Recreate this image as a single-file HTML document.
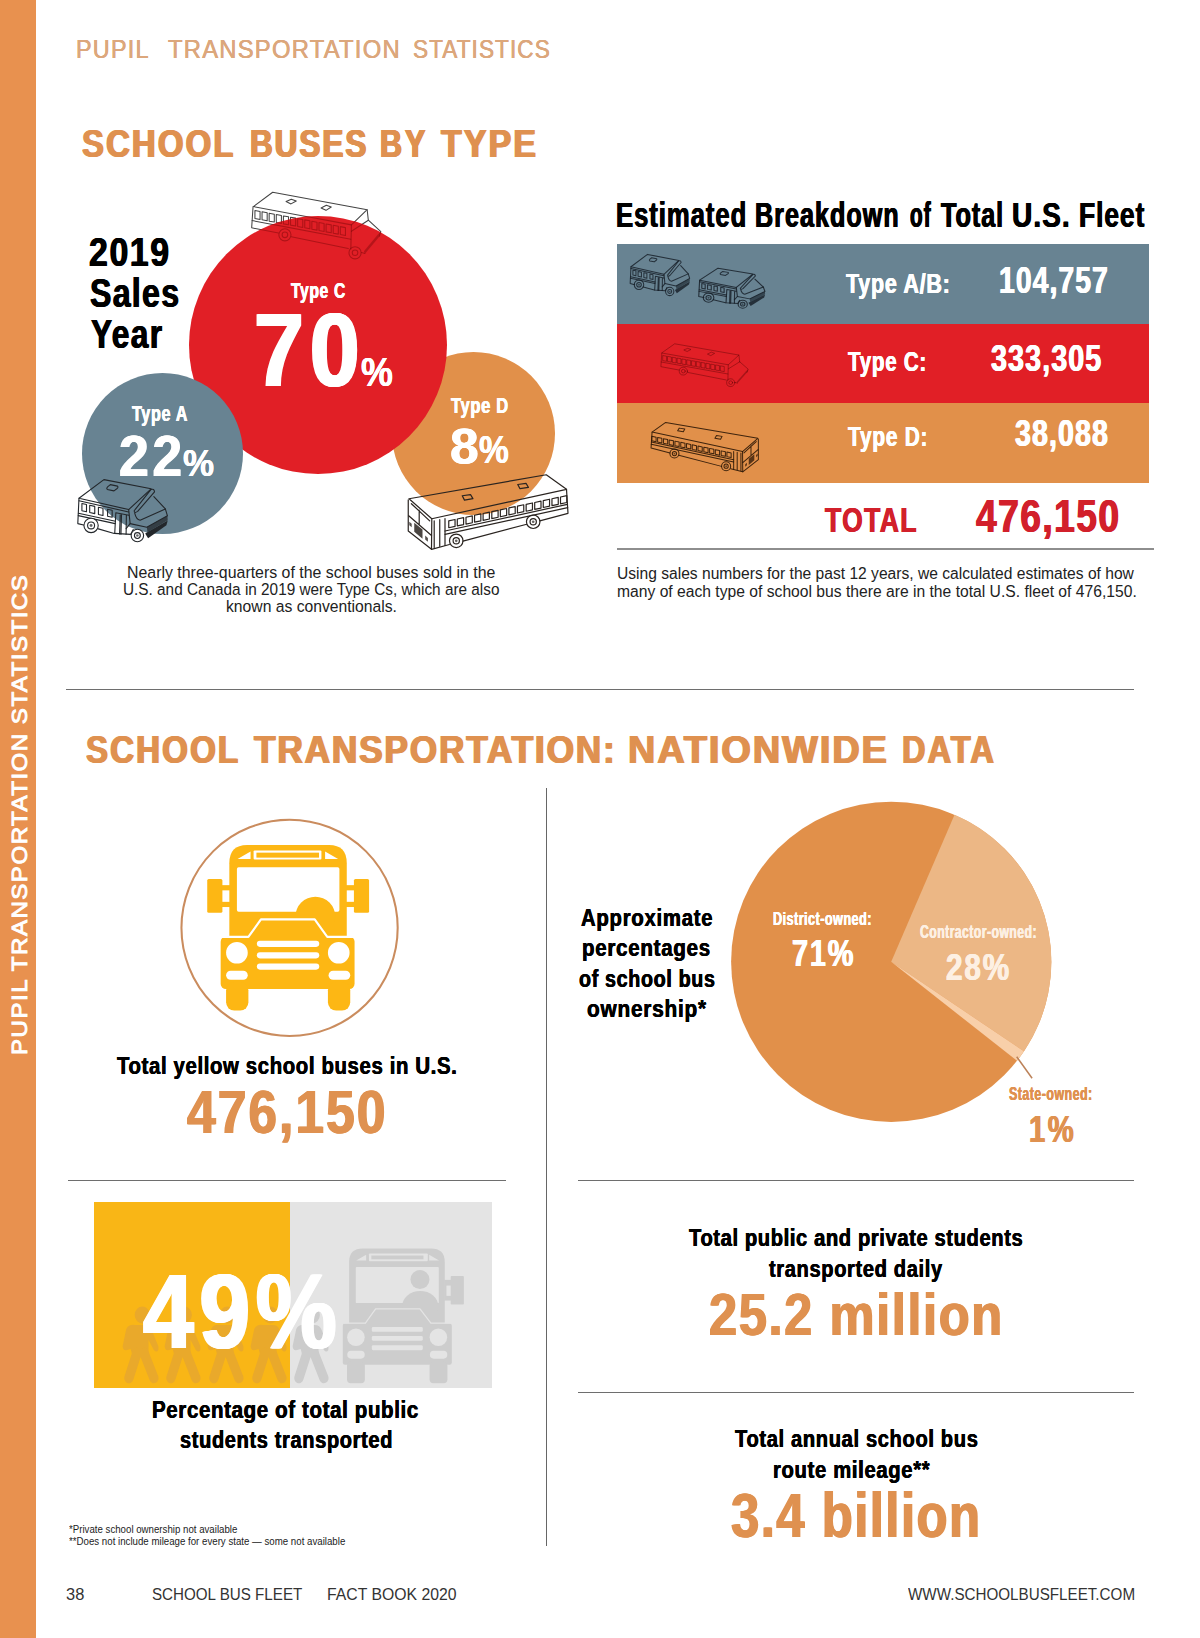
<!DOCTYPE html>
<html>
<head>
<meta charset="utf-8">
<title>Pupil Transportation Statistics</title>
<style>
html,body{margin:0;padding:0;background:#fff;}
body{width:1200px;height:1638px;position:relative;overflow:hidden;font-family:"Liberation Sans",sans-serif;}
.t{position:absolute;white-space:nowrap;line-height:1;transform-origin:0 0;font-family:"Liberation Sans",sans-serif;}
.abs{position:absolute;}
.circ{position:absolute;border-radius:50%;}
.ln{position:absolute;background:#6e6e6e;}
svg{position:absolute;overflow:visible;}
.art{fill:none;stroke:currentColor;stroke-linejoin:round;stroke-linecap:round;}
</style>
</head>
<body>
<!-- shared symbols -->
<svg width="0" height="0" style="left:0;top:0">
<defs>
<!-- Type A small bus : canvas 1200x873 -->
<symbol id="busA" viewBox="0 0 1200 873" preserveAspectRatio="none">
 <g class="art" stroke-width="var(--sw,11)">
  <path d="M370,105 L885,205 L640,432 L98,308 Z"/>
  <path d="M98,336 L640,458"/>
  <path d="M98,308 L85,585 L160,603"/>
  <path d="M300,640 L482,692 L662,702 L690,650"/>
  <path d="M92,472 L496,560 M90,498 L493,585"/>
  <path d="M130,365 L180,376 L180,456 L130,445 Z M215,385 L270,397 L270,476 L215,464 Z M310,406 L360,417 L360,496 L310,485 Z M410,428 L460,439 L460,516 L410,505 Z"/>
  <path d="M500,466 L488,692 M548,478 L541,698 M562,481 L556,700 M615,492 L612,700 M500,466 L642,494"/>
  <path d="M640,432 L656,585 L612,640"/>
  <path d="M700,445 L882,214 Q918,198 922,238 L738,452 Q700,478 700,445 Z"/>
  <path d="M915,290 L1040,425 L1063,500 L838,625 L656,585"/>
  <path d="M706,470 Q722,540 765,548 L1040,425"/>
  <path d="M440,160 L518,176 Q530,188 514,202 L480,228 L406,212 Q394,200 410,184 Z"/>
 </g>
 <path d="M838,625 L1063,500 L1066,548 L846,678 Z" fill="currentColor" opacity=".75"/>
 <path d="M820,692 L1066,552 L1052,602 L852,746 Z" fill="currentColor"/>
 <g class="art" stroke-width="var(--sw,11)">
  <circle cx="230" cy="605" r="78" fill="var(--wheel,none)"/><circle cx="230" cy="605" r="38"/>
  <circle cx="735" cy="715" r="68" fill="var(--wheel,none)"/><circle cx="735" cy="715" r="32"/>
 </g>
 <circle cx="230" cy="605" r="16" fill="currentColor" opacity=".7"/><circle cx="735" cy="715" r="14" fill="currentColor" opacity=".7"/>
</symbol>

<!-- Type D bus : canvas 1200x633 -->
<symbol id="busD" viewBox="0 0 1200 633" preserveAspectRatio="none">
 <g class="art" stroke-width="var(--sw,9)">
  <path d="M60,225 L975,65 L1110,162 L212,358 Z"/>
  <path d="M55,232 L55,440 L210,562 L212,358"/>
  <path d="M210,562 L330,530 M420,507 L845,395 M932,372 L1120,322 L1110,162"/>
  <path d="M76,258 L198,372 M58,338 L210,470 M128,300 L128,400"/>
  <path d="M228,372 L228,550 M265,364 L265,542 M300,357 L300,536"/>
  <path d="M300,440 L1116,262 M300,462 L1118,284"/>
  <path d="M415,205 L470,197 L486,224 L430,234 Z M785,130 L840,122 L856,149 L800,158 Z"/>
  <path d="M325,372 l42,-9 l0,46 l-42,9 Z M382,360 l42,-9 l0,46 l-42,9 Z M440,348 l42,-9 l0,46 l-42,9 Z M497,335 l42,-9 l0,46 l-42,9 Z M554,323 l42,-9 l0,46 l-42,9 Z M612,311 l42,-9 l0,46 l-42,9 Z M669,299 l42,-9 l0,46 l-42,9 Z M726,286 l42,-9 l0,46 l-42,9 Z M783,274 l42,-9 l0,46 l-42,9 Z M841,262 l42,-9 l0,46 l-42,9 Z M898,250 l42,-9 l0,46 l-42,9 Z M955,237 l42,-9 l0,46 l-42,9 Z M1013,225 l42,-9 l0,46 l-42,9 Z M1070,213 l42,-9 l0,46 l-42,9 Z"/>
 </g>
 <path d="M95,385 L150,430 L150,492 L95,445 Z" fill="currentColor" opacity=".85"/>
 <path d="M62,378 L78,392 L78,415 L62,401 Z M168,470 L186,486 L186,512 L168,496 Z" fill="currentColor" opacity=".8"/>
 <g class="art" stroke-width="var(--sw,9)">
  <circle cx="375" cy="505" r="45" fill="var(--wheel,none)"/><circle cx="375" cy="505" r="21"/>
  <circle cx="888" cy="378" r="45" fill="var(--wheel,none)"/><circle cx="888" cy="378" r="21"/>
 </g>
 <circle cx="375" cy="505" r="9" fill="currentColor" opacity=".7"/><circle cx="888" cy="378" r="9" fill="currentColor" opacity=".7"/>
</symbol>

<!-- Type C bus : canvas 1200x686 (hood overflows to ~1215) -->
<symbol id="busC" viewBox="0 0 1200 686" overflow="visible" preserveAspectRatio="none">
 <g class="art" stroke-width="var(--sw,9)">
  <path d="M280,105 L1090,255 L955,385 L115,228 Z"/>
  <path d="M112,228 L100,410 L330,455 M440,487 L928,588"/>
  <path d="M1090,255 L1100,345 M955,385 L950,592"/>
  <path d="M104,348 L950,508"/>
  <path d="M395,185 L440,165 L482,180 L437,205 Z M695,240 L740,216 L782,232 L737,260 Z"/>
  <path d="M1100,345 L1207,443 L1195,482 M955,440 L1100,345 M1042,622 L1071,630"/>
  <path d="M128,262 l44,8 l0,68 l-44,-8 Z M189,273 l44,8 l0,68 l-44,-8 Z M250,285 l44,8 l0,68 l-44,-8 Z M311,296 l44,8 l0,68 l-44,-8 Z M372,308 l44,8 l0,68 l-44,-8 Z M433,319 l44,8 l0,68 l-44,-8 Z M494,331 l44,8 l0,68 l-44,-8 Z M555,342 l44,8 l0,68 l-44,-8 Z M616,354 l44,8 l0,68 l-44,-8 Z M677,365 l44,8 l0,68 l-44,-8 Z M738,377 l44,8 l0,68 l-44,-8 Z M799,388 l44,8 l0,68 l-44,-8 Z M860,400 l44,8 l0,68 l-44,-8 Z"/>
 </g>
 <path d="M1207,443 L1195,484 L1071,632 L1062,612 L1180,470 Z" fill="currentColor" opacity=".85"/>
 <g class="art" stroke-width="var(--sw,9)">
  <circle cx="385" cy="470" r="52"/><circle cx="385" cy="470" r="24"/>
  <circle cx="986" cy="624" r="52"/><circle cx="986" cy="624" r="24"/>
 </g>
</symbol>

<!-- walking kid : 46x80 -->
<symbol id="kid" viewBox="0 0 46 80" preserveAspectRatio="none">
 <circle cx="25" cy="11" r="8.5"/>
 <path d="M17,21 Q10,20 7,25 L3,42 Q3,47 8,46 L12,45 L14,52 L32,52 L32,36 L38,46 Q41,49 43,46 Q44,43 42,40 L35,25 Q33,21 28,21 Z"/>
 <path d="M19,49 L10,74 M27,49 L38,74" stroke="currentColor" stroke-width="10.5" stroke-linecap="round" fill="none"/>
</symbol>

</defs>
</svg>

<!-- sidebar -->
<div class="abs" style="left:0;top:0;width:36px;height:1638px;background:#E8914F;"></div>
<div class="t" style="left:8.53px;top:1054.88px;font-size:21.94px;color:#fff;-webkit-text-stroke:0.9px #fff;letter-spacing:1.32px;transform:rotate(-90deg) scaleX(1.1);">PUPIL TRANSPORTATION STATISTICS</div>

<!-- ===== circles section ===== -->
<div class="circ" style="left:392.3px;top:352.3px;width:163.2px;height:163.2px;background:#E1904A;"></div>
<svg style="left:240px;top:180px;color:#444;--sw:9;" width="140" height="80"><use href="#busC"/></svg>
<div class="circ" style="left:189.1px;top:216.3px;width:258.2px;height:258.2px;background:#E11F26;overflow:hidden;">
  <svg style="left:50.9px;top:-36.3px;color:rgba(100,0,0,.4);--sw:9.5;" width="140" height="80"><use href="#busC"/></svg>
</div>
<div class="circ" style="left:81.5px;top:372.9px;width:161px;height:161px;background:#688392;"></div>
<svg style="left:70px;top:470px;color:#23272b;--wheel:#fff;--sw:12;" width="110" height="80"><use href="#busA"/></svg>
<svg style="left:400px;top:465px;color:#2a2420;--sw:8;" width="180" height="95"><use href="#busD"/></svg>


<!-- ===== table ===== -->
<div class="abs" style="left:617px;top:244px;width:531.5px;height:80px;background:#688392;"></div>
<div class="abs" style="left:617px;top:323.5px;width:531.5px;height:80px;background:#E11F26;"></div>
<div class="abs" style="left:617px;top:403px;width:531.5px;height:80.2px;background:#E1904A;"></div>
<svg style="left:625.1px;top:248.2px;color:rgba(20,28,36,.8);--sw:17;" width="73" height="53.1"><use href="#busA"/></svg>
<svg style="left:693.3px;top:262.4px;color:rgba(20,28,36,.8);--sw:17;" width="81.2" height="51.5"><use href="#busA"/></svg>
<svg style="left:652.8px;top:336.4px;color:rgba(70,0,0,.42);--sw:12;" width="94.6" height="51.3"><use href="#busC"/></svg>
<svg style="left:642.7px;top:415.8px;color:rgba(40,20,5,.88);--sw:10;transform:scaleX(-1);" width="120.9" height="62.9"><use href="#busD"/></svg>


<!-- ===== lines ===== -->
<div class="ln" style="left:617px;top:548px;width:536.7px;height:2px;background:#8e8e8e;"></div>
<div class="ln" style="left:66px;top:688.5px;width:1068px;height:1.2px;background:#6e6e6e;"></div>
<div class="ln" style="left:545.6px;top:788px;width:1.2px;height:758px;background:#666;"></div>
<div class="ln" style="left:68px;top:1180px;width:438px;height:1.2px;background:#6e6e6e;"></div>
<div class="ln" style="left:577.5px;top:1180px;width:556px;height:1.2px;background:#6e6e6e;"></div>
<div class="ln" style="left:577.5px;top:1391.5px;width:556px;height:1.2px;background:#6e6e6e;"></div>

<!-- ===== yellow bus icon ===== -->
<svg style="left:160px;top:800px;" width="260" height="260" viewBox="0 0 1200 1200">
 <circle cx="598" cy="590" r="499" fill="none" stroke="#CA8C5E" stroke-width="9.5"/>
 <g fill="#FDB714">
  <rect x="218" y="365" width="70" height="155" rx="7"/><rect x="895" y="365" width="70" height="155" rx="7"/>
  <rect x="284" y="393" width="40" height="24"/><rect x="284" y="470" width="40" height="24"/>
  <rect x="858" y="393" width="40" height="24"/><rect x="858" y="470" width="40" height="24"/>
  <path d="M320,640 V292 Q320,208 402,208 H780 Q862,208 862,292 V640 Z"/>
 </g>
 <rect x="355" y="310" width="473" height="206" rx="8" fill="#fff"/>
 <rect x="432" y="233" width="313" height="42" rx="5" fill="#fff"/>
 <rect x="445" y="243" width="289" height="23" fill="#FDB714"/>
 <path d="M358,272 L418,238 L418,272 Z M762,238 L822,272 L762,272 Z" fill="#fff"/>
 <circle cx="717" cy="538" r="92" fill="#FDB714"/>
 <g fill="#FDB714">
  <rect x="280" y="630" width="618" height="242" rx="24"/>
  <path d="M405,640 L465,550 L715,550 L775,640 Z"/>
  <rect x="305" y="840" width="103" height="132" rx="38"/><rect x="775" y="840" width="103" height="132" rx="38"/>
 </g>
 <path d="M284,632 L408,632 L466,551 L714,551 L772,632 L895,632" fill="none" stroke="#fff" stroke-width="10" stroke-linejoin="round"/>
 <g fill="#fff">
  <circle cx="355" cy="705" r="50"/><circle cx="825" cy="705" r="50"/>
  <rect x="447" y="650" width="288" height="28" rx="14"/><rect x="447" y="703" width="288" height="28" rx="14"/><rect x="447" y="755" width="288" height="28" rx="14"/>
  <rect x="305" y="788" width="100" height="42" rx="21"/><rect x="778" y="788" width="100" height="42" rx="21"/>
 </g>
</svg>


<!-- ===== 49 box ===== -->
<div class="abs" style="left:94.3px;top:1201.5px;width:195.5px;height:186.4px;background:#F9B616;"></div>
<div class="abs" style="left:289.7px;top:1201.5px;width:202.4px;height:186.4px;background:#E4E4E4;"></div>
<svg style="left:119.8px;top:1304px;color:#E9A92B;fill:#E9A92B;" width="41" height="80"><use href="#kid"/></svg>
<svg style="left:162.4px;top:1304px;color:#E9A92B;fill:#E9A92B;" width="41" height="80"><use href="#kid"/></svg>
<svg style="left:205.0px;top:1304px;color:#E9A92B;fill:#E9A92B;" width="41" height="80"><use href="#kid"/></svg>
<svg style="left:247.6px;top:1304px;color:#E9A92B;fill:#E9A92B;" width="41" height="80"><use href="#kid"/></svg>
<svg style="left:290.2px;top:1304px;color:#CCCCCC;fill:#CCCCCC;" width="41" height="80"><use href="#kid"/></svg>
<svg style="left:330px;top:1230px;" width="170" height="170" viewBox="0 0 1200 1200">
 <g fill="#CDCDCD">
  <path d="M135,660 V225 Q135,130 232,130 H712 Q810,130 810,225 V660 Z"/>
  <rect x="852" y="325" width="93" height="200" rx="6"/>
  <rect x="806" y="352" width="50" height="146"/>
 </g>
 <g fill="#E4E4E4">
  <rect x="182" y="262" width="586" height="254" rx="6"/>
  <rect x="275" y="165" width="415" height="55" rx="6"/>
  <path d="M185,215 L255,175 L255,215 Z M700,175 L770,215 L700,215 Z"/>
  <rect x="822" y="392" width="30" height="73"/>
 </g>
 <g fill="#CDCDCD">
  <rect x="292" y="180" width="368" height="27"/>
  <circle cx="635" cy="350" r="67"/>
  <ellipse cx="637" cy="540" rx="128" ry="110"/>
  <rect x="90" y="660" width="770" height="292" rx="16"/>
  <path d="M250,665 L322,555 L635,555 L715,665 Z"/>
  <rect x="120" y="930" width="126" height="152" rx="28"/><rect x="703" y="930" width="126" height="152" rx="28"/>
 </g>
 <path d="M95,658 L250,658 L322,557 L635,557 L712,658 L858,658" fill="none" stroke="#E4E4E4" stroke-width="9" stroke-linejoin="round"/>
 <g fill="#E4E4E4">
  <circle cx="183" cy="757" r="62"/><circle cx="765" cy="757" r="62"/>
  <rect x="295" y="685" width="360" height="34" rx="10"/><rect x="295" y="748" width="360" height="34" rx="10"/><rect x="295" y="813" width="360" height="35" rx="10"/>
  <rect x="122" y="853" width="123" height="55" rx="27"/><rect x="705" y="853" width="123" height="55" rx="27"/>
 </g>
</svg>


<!-- ===== pie ===== -->
<svg style="left:0;top:0;" width="1200" height="1638" viewBox="0 0 1200 1638">
 <circle cx="891.2" cy="961.8" r="160.1" fill="#E1904A"/>
 <path d="M891.2,961.8 L954.53,814.76 A160.1,160.1 0 0 1 1023.93,1051.33 Z" fill="#ECB785"/>
 <path d="M891.2,961.8 L1023.93,1051.33 A160.1,160.1 0 0 1 1017.02,1060.81 Z" fill="#F8CFA9"/>
 <path d="M1016.7,1056.7 L1032.1,1078.3" stroke="#BC8259" stroke-width="1.5" fill="none"/>
</svg>

<!-- ===== text ===== -->
<div class="t" style="left:75.88px;top:35.97px;font-size:26.62px;color:#DCA77C;transform:scaleX(0.8785);letter-spacing:1.39px;text-shadow:0.28px 0 0 currentColor,-0.28px 0 0 currentColor;">PUPIL</div>
<div class="t" style="left:167.77px;top:35.97px;font-size:26.62px;color:#DCA77C;transform:scaleX(0.8945);letter-spacing:1.38px;text-shadow:0.28px 0 0 currentColor,-0.28px 0 0 currentColor;">TRANSPORTATION</div>
<div class="t" style="left:413.10px;top:35.97px;font-size:26.62px;color:#DCA77C;transform:scaleX(0.8494);letter-spacing:1.24px;text-shadow:0.29px 0 0 currentColor,-0.29px 0 0 currentColor;">STATISTICS</div>
<div class="t" style="left:82.19px;top:124.85px;font-size:38.57px;color:#DF9150;transform:scaleX(0.8539);font-weight:700;letter-spacing:2.46px;text-shadow:1.00px 0 0 currentColor,-1.00px 0 0 currentColor;">SCHOOL</div>
<div class="t" style="left:250.21px;top:124.85px;font-size:38.57px;color:#DF9150;transform:scaleX(0.8159);font-weight:700;letter-spacing:2.43px;text-shadow:1.04px 0 0 currentColor,-1.04px 0 0 currentColor,0.52px 0 0 currentColor,-0.52px 0 0 currentColor;">BUSES</div>
<div class="t" style="left:380.27px;top:124.85px;font-size:38.57px;color:#DF9150;transform:scaleX(0.7896);font-weight:700;letter-spacing:3.84px;text-shadow:1.08px 0 0 currentColor,-1.08px 0 0 currentColor,0.54px 0 0 currentColor,-0.54px 0 0 currentColor;">BY</div>
<div class="t" style="left:440.51px;top:124.85px;font-size:38.57px;color:#DF9150;transform:scaleX(0.8771);font-weight:700;letter-spacing:2.48px;text-shadow:0.97px 0 0 currentColor,-0.97px 0 0 currentColor;">TYPE</div>
<div class="t" style="left:89.47px;top:232.09px;font-size:40.36px;color:#000;transform:scaleX(0.8393);font-weight:700;letter-spacing:1.85px;text-shadow:0.58px 0 0 currentColor,-0.58px 0 0 currentColor;">2019</div>
<div class="t" style="left:90.35px;top:272.73px;font-size:41.07px;color:#000;transform:scaleX(0.7810);font-weight:700;letter-spacing:1.68px;text-shadow:0.63px 0 0 currentColor,-0.63px 0 0 currentColor;">Sales</div>
<div class="t" style="left:91.17px;top:313.54px;font-size:40.71px;color:#000;transform:scaleX(0.7775);font-weight:700;letter-spacing:1.81px;text-shadow:0.63px 0 0 currentColor,-0.63px 0 0 currentColor;">Year</div>
<div class="t" style="left:290.86px;top:279.70px;font-size:22.50px;color:#fff;transform:scaleX(0.6952);font-weight:700;letter-spacing:0.93px;text-shadow:0.39px 0 0 currentColor,-0.39px 0 0 currentColor;">Type C</div>
<div class="t" style="left:253.91px;top:298.58px;font-size:103.57px;color:#fff;transform:scaleX(0.8651);font-weight:700;letter-spacing:6.85px;text-shadow:1.44px 0 0 currentColor,-1.44px 0 0 currentColor,0.72px 0 0 currentColor,-0.72px 0 0 currentColor;">70</div>
<div class="t" style="left:360.68px;top:352.09px;font-size:40.36px;color:#fff;transform:scaleX(0.8877);font-weight:700;text-shadow:0.17px 0 0 currentColor,-0.17px 0 0 currentColor;">%</div>
<div class="t" style="left:132.11px;top:403.14px;font-size:22.29px;color:#fff;transform:scaleX(0.7248);font-weight:700;letter-spacing:0.92px;text-shadow:0.37px 0 0 currentColor,-0.37px 0 0 currentColor;">Type A</div>
<div class="t" style="left:119.09px;top:427.06px;font-size:58.29px;color:#fff;transform:scaleX(0.9188);font-weight:700;letter-spacing:3.89px;text-shadow:0.76px 0 0 currentColor,-0.76px 0 0 currentColor;">22</div>
<div class="t" style="left:183.05px;top:445.47px;font-size:37.71px;color:#fff;transform:scaleX(0.9265);font-weight:700;text-shadow:0.16px 0 0 currentColor,-0.16px 0 0 currentColor;">%</div>
<div class="t" style="left:451.10px;top:395.14px;font-size:22.29px;color:#fff;transform:scaleX(0.7402);font-weight:700;letter-spacing:0.92px;text-shadow:0.36px 0 0 currentColor,-0.36px 0 0 currentColor;">Type D</div>
<div class="t" style="left:450.04px;top:422.80px;font-size:49.14px;color:#fff;transform:scaleX(1.0508);font-weight:700;text-shadow:0.56px 0 0 currentColor,-0.56px 0 0 currentColor;">8</div>
<div class="t" style="left:479.08px;top:431.39px;font-size:38.29px;color:#fff;transform:scaleX(0.8758);font-weight:700;text-shadow:0.17px 0 0 currentColor,-0.17px 0 0 currentColor;">%</div>
<div class="t" style="left:127.33px;top:565.05px;font-size:16.83px;color:#222;transform:scaleX(0.9445);">Nearly three-quarters of the school buses sold in the</div>
<div class="t" style="left:122.73px;top:581.95px;font-size:16.83px;color:#222;transform:scaleX(0.9111);">U.S. and Canada in 2019 were Type Cs, which are also</div>
<div class="t" style="left:225.56px;top:598.75px;font-size:16.83px;color:#222;transform:scaleX(0.9324);">known as conventionals.</div>
<div class="t" style="left:615.88px;top:197.37px;font-size:35.00px;color:#000;transform:scaleX(0.7331);font-weight:700;letter-spacing:1.30px;text-shadow:0.57px 0 0 currentColor,-0.57px 0 0 currentColor;">Estimated</div>
<div class="t" style="left:754.91px;top:197.37px;font-size:35.00px;color:#000;transform:scaleX(0.7169);font-weight:700;letter-spacing:1.47px;text-shadow:0.59px 0 0 currentColor,-0.59px 0 0 currentColor;">Breakdown</div>
<div class="t" style="left:909.80px;top:197.37px;font-size:35.00px;color:#000;transform:scaleX(0.5880);font-weight:700;letter-spacing:2.06px;text-shadow:0.71px 0 0 currentColor,-0.71px 0 0 currentColor;">of</div>
<div class="t" style="left:941.17px;top:197.37px;font-size:35.00px;color:#000;transform:scaleX(0.7224);font-weight:700;letter-spacing:1.25px;text-shadow:0.58px 0 0 currentColor,-0.58px 0 0 currentColor;">Total</div>
<div class="t" style="left:1011.74px;top:197.37px;font-size:35.00px;color:#000;transform:scaleX(0.8005);font-weight:700;letter-spacing:1.35px;text-shadow:0.52px 0 0 currentColor,-0.52px 0 0 currentColor;">U.S.</div>
<div class="t" style="left:1079.34px;top:197.37px;font-size:35.00px;color:#000;transform:scaleX(0.7529);font-weight:700;letter-spacing:1.27px;text-shadow:0.56px 0 0 currentColor,-0.56px 0 0 currentColor;">Fleet</div>
<div class="t" style="left:846.37px;top:269.72px;font-size:27.50px;color:#fff;transform:scaleX(0.7791);font-weight:700;letter-spacing:0.99px;text-shadow:0.42px 0 0 currentColor,-0.42px 0 0 currentColor;">Type A/B:</div>
<div class="t" style="left:998.74px;top:261.56px;font-size:37.14px;color:#fff;transform:scaleX(0.7632);font-weight:700;letter-spacing:1.39px;text-shadow:0.58px 0 0 currentColor,-0.58px 0 0 currentColor;">104,757</div>
<div class="t" style="left:847.73px;top:347.92px;font-size:27.86px;color:#fff;transform:scaleX(0.7361);font-weight:700;letter-spacing:1.03px;text-shadow:0.45px 0 0 currentColor,-0.45px 0 0 currentColor;">Type C:</div>
<div class="t" style="left:991.47px;top:339.94px;font-size:37.29px;color:#fff;transform:scaleX(0.7694);font-weight:700;letter-spacing:1.42px;text-shadow:0.58px 0 0 currentColor,-0.58px 0 0 currentColor;">333,305</div>
<div class="t" style="left:847.72px;top:423.64px;font-size:27.00px;color:#fff;transform:scaleX(0.7717);font-weight:700;letter-spacing:1.00px;text-shadow:0.42px 0 0 currentColor,-0.42px 0 0 currentColor;">Type D:</div>
<div class="t" style="left:1015.47px;top:415.66px;font-size:36.43px;color:#fff;transform:scaleX(0.7840);font-weight:700;letter-spacing:1.40px;text-shadow:0.56px 0 0 currentColor,-0.56px 0 0 currentColor;">38,088</div>
<div class="t" style="left:824.65px;top:502.98px;font-size:34.29px;color:#D2202B;transform:scaleX(0.7746);font-weight:700;letter-spacing:1.76px;text-shadow:0.53px 0 0 currentColor,-0.53px 0 0 currentColor;">TOTAL</div>
<div class="t" style="left:976.19px;top:492.09px;font-size:47.14px;color:#D2202B;transform:scaleX(0.7899);font-weight:700;letter-spacing:1.79px;text-shadow:0.72px 0 0 currentColor,-0.72px 0 0 currentColor;">476,150</div>
<div class="t" style="left:616.91px;top:566.28px;font-size:15.97px;color:#222;transform:scaleX(0.9771);">Using sales numbers for the past 12 years, we calculated estimates of how</div>
<div class="t" style="left:617.06px;top:584.18px;font-size:15.97px;color:#222;transform:scaleX(0.9807);">many of each type of school bus there are in the total U.S. fleet of 476,150.</div>
<div class="t" style="left:86.44px;top:731.95px;font-size:37.86px;color:#DF9150;transform:scaleX(0.8743);font-weight:700;letter-spacing:2.41px;text-shadow:0.97px 0 0 currentColor,-0.97px 0 0 currentColor;">SCHOOL</div>
<div class="t" style="left:254.25px;top:731.95px;font-size:37.86px;color:#DF9150;transform:scaleX(0.9317);font-weight:700;letter-spacing:1.92px;text-shadow:0.91px 0 0 currentColor,-0.91px 0 0 currentColor;">TRANSPORTATION:</div>
<div class="t" style="left:627.98px;top:731.95px;font-size:37.86px;color:#DF9150;transform:scaleX(0.9991);font-weight:700;letter-spacing:1.99px;text-shadow:0.85px 0 0 currentColor,-0.85px 0 0 currentColor;">NATIONWIDE</div>
<div class="t" style="left:901.90px;top:731.95px;font-size:37.86px;color:#DF9150;transform:scaleX(0.8595);font-weight:700;letter-spacing:2.42px;text-shadow:0.99px 0 0 currentColor,-0.99px 0 0 currentColor;">DATA</div>
<div class="t" style="left:117.29px;top:1054.40px;font-size:24.57px;color:#000;transform:scaleX(0.8279);font-weight:700;letter-spacing:0.77px;text-shadow:0.36px 0 0 currentColor,-0.36px 0 0 currentColor;">Total yellow school buses in U.S.</div>
<div class="t" style="left:187.42px;top:1082.24px;font-size:61.14px;color:#DF9150;transform:scaleX(0.8450);font-weight:700;letter-spacing:2.32px;text-shadow:0.87px 0 0 currentColor,-0.87px 0 0 currentColor;">476,150</div>
<div class="t" style="left:143.05px;top:1258.82px;font-size:105.00px;color:#fff;transform:scaleX(0.8673);font-weight:700;letter-spacing:6.61px;text-shadow:1.45px 0 0 currentColor,-1.45px 0 0 currentColor,0.73px 0 0 currentColor,-0.73px 0 0 currentColor;">49%</div>
<div class="t" style="left:151.87px;top:1398.40px;font-size:24.57px;color:#000;transform:scaleX(0.8340);font-weight:700;letter-spacing:0.76px;text-shadow:0.35px 0 0 currentColor,-0.35px 0 0 currentColor;">Percentage of total public</div>
<div class="t" style="left:179.70px;top:1428.40px;font-size:24.57px;color:#000;transform:scaleX(0.8130);font-weight:700;letter-spacing:0.82px;text-shadow:0.36px 0 0 currentColor,-0.36px 0 0 currentColor;">students transported</div>
<div class="t" style="left:68.70px;top:1523.69px;font-size:10.65px;color:#222;transform:scaleX(0.9093);">*Private school ownership not available</div>
<div class="t" style="left:68.70px;top:1536.49px;font-size:10.65px;color:#222;transform:scaleX(0.9105);">**Does not include mileage for every state — some not available</div>
<div class="t" style="left:65.51px;top:1586.36px;font-size:16.12px;color:#333;transform:scaleX(1.0202);">38</div>
<div class="t" style="left:152.19px;top:1586.36px;font-size:16.12px;color:#333;transform:scaleX(0.9415);">SCHOOL BUS FLEET</div>
<div class="t" style="left:326.74px;top:1586.36px;font-size:16.12px;color:#333;transform:scaleX(0.9795);">FACT BOOK 2020</div>
<div class="t" style="left:907.50px;top:1586.36px;font-size:16.12px;color:#333;transform:scaleX(0.9430);">WWW.SCHOOLBUSFLEET.COM</div>
<div class="t" style="left:580.89px;top:905.90px;font-size:24.57px;color:#000;transform:scaleX(0.8237);font-weight:700;letter-spacing:0.95px;text-shadow:0.36px 0 0 currentColor,-0.36px 0 0 currentColor;">Approximate</div>
<div class="t" style="left:582.27px;top:935.90px;font-size:24.57px;color:#000;transform:scaleX(0.8331);font-weight:700;letter-spacing:0.91px;text-shadow:0.35px 0 0 currentColor,-0.35px 0 0 currentColor;">percentages</div>
<div class="t" style="left:578.90px;top:966.70px;font-size:24.57px;color:#000;transform:scaleX(0.8010);font-weight:700;letter-spacing:0.84px;text-shadow:0.37px 0 0 currentColor,-0.37px 0 0 currentColor;">of school bus</div>
<div class="t" style="left:586.67px;top:996.70px;font-size:24.57px;color:#000;transform:scaleX(0.8465);font-weight:700;letter-spacing:0.93px;text-shadow:0.35px 0 0 currentColor,-0.35px 0 0 currentColor;">ownership*</div>
<div class="t" style="left:773.46px;top:908.92px;font-size:19.00px;color:#fff;transform:scaleX(0.6704);font-weight:700;letter-spacing:0.62px;text-shadow:0.34px 0 0 currentColor,-0.34px 0 0 currentColor;">District-owned:</div>
<div class="t" style="left:791.99px;top:935.26px;font-size:37.14px;color:#fff;transform:scaleX(0.7780);font-weight:700;letter-spacing:2.30px;text-shadow:0.57px 0 0 currentColor,-0.57px 0 0 currentColor;">71%</div>
<div class="t" style="left:920.44px;top:922.22px;font-size:19.00px;color:#FDF0E3;transform:scaleX(0.6449);font-weight:700;letter-spacing:0.67px;text-shadow:0.35px 0 0 currentColor,-0.35px 0 0 currentColor;">Contractor-owned:</div>
<div class="t" style="left:946.25px;top:948.56px;font-size:37.14px;color:#FDF0E3;transform:scaleX(0.7999);font-weight:700;letter-spacing:2.31px;text-shadow:0.56px 0 0 currentColor,-0.56px 0 0 currentColor;">28%</div>
<div class="t" style="left:1009.26px;top:1085.70px;font-size:17.71px;color:#DF9150;transform:scaleX(0.7056);font-weight:700;letter-spacing:0.63px;text-shadow:0.30px 0 0 currentColor,-0.30px 0 0 currentColor;">State-owned:</div>
<div class="t" style="left:1028.68px;top:1111.98px;font-size:36.29px;color:#DF9150;transform:scaleX(0.8046);font-weight:700;letter-spacing:3.16px;text-shadow:0.54px 0 0 currentColor,-0.54px 0 0 currentColor;">1%</div>
<div class="t" style="left:689.09px;top:1226.44px;font-size:24.29px;color:#000;transform:scaleX(0.8288);font-weight:700;letter-spacing:0.75px;text-shadow:0.35px 0 0 currentColor,-0.35px 0 0 currentColor;">Total public and private students</div>
<div class="t" style="left:769.09px;top:1257.44px;font-size:24.29px;color:#000;transform:scaleX(0.8256);font-weight:700;letter-spacing:0.79px;text-shadow:0.35px 0 0 currentColor,-0.35px 0 0 currentColor;">transported daily</div>
<div class="t" style="left:709.20px;top:1285.21px;font-size:60.00px;color:#DF9150;transform:scaleX(0.8441);font-weight:700;letter-spacing:1.86px;text-shadow:0.85px 0 0 currentColor,-0.85px 0 0 currentColor;">25.2 million</div>
<div class="t" style="left:735.09px;top:1427.44px;font-size:24.29px;color:#000;transform:scaleX(0.8268);font-weight:700;letter-spacing:0.80px;text-shadow:0.35px 0 0 currentColor,-0.35px 0 0 currentColor;">Total annual school bus</div>
<div class="t" style="left:773.08px;top:1458.44px;font-size:24.29px;color:#000;transform:scaleX(0.8331);font-weight:700;letter-spacing:0.80px;text-shadow:0.35px 0 0 currentColor,-0.35px 0 0 currentColor;">route mileage**</div>
<div class="t" style="left:730.73px;top:1484.90px;font-size:62.14px;color:#DF9150;transform:scaleX(0.8179);font-weight:700;letter-spacing:1.80px;text-shadow:0.91px 0 0 currentColor,-0.91px 0 0 currentColor;">3.4 billion</div>
</body>
</html>
